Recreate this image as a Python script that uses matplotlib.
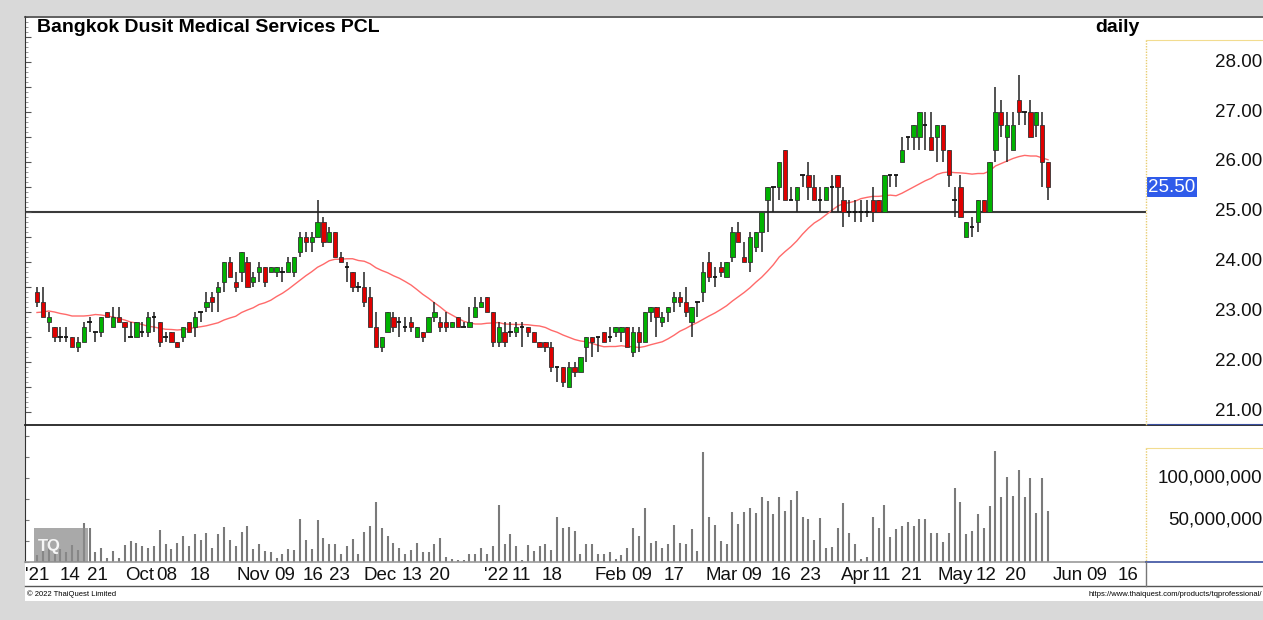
import matplotlib
matplotlib.use('Agg')
import matplotlib.pyplot as plt
from matplotlib.patches import Rectangle
from matplotlib.lines import Line2D
import numpy as np
import pandas as pd

plt.rcParams['font.family'] = ['Liberation Sans', 'DejaVu Sans']

W, H = 1263, 620

# ---- datos ----
open_ = [23.4, 23.2, 22.8, 22.7, 22.5, 22.5, 22.5, 22.3, 22.4, 22.8,
         22.6, 22.6, 23.0, 22.7, 22.9, 22.8, 22.5, 22.5, 22.6, 22.6,
         22.9, 22.8, 22.5, 22.6, 22.4, 22.5, 22.8, 22.7, 23.0, 23.1,
         23.3, 23.4, 23.6, 24.0, 23.6, 23.8, 24.0, 23.6, 23.8, 23.9,
         23.8, 23.8, 23.8, 23.8, 23.8, 24.2, 24.5, 24.4, 24.5, 24.8,
         24.4, 24.6, 24.1, 23.9, 23.8, 23.5, 23.5, 23.3, 22.7, 22.3,
         22.6, 22.9, 22.8, 22.7, 22.8, 22.5, 22.6, 22.6, 22.9, 22.8,
         22.8, 22.7, 22.9, 22.7, 22.7, 22.9, 23.1, 23.3, 23.0, 22.4,
         22.6, 22.6, 22.6, 22.7, 22.7, 22.6, 22.4, 22.4, 22.3, 21.9,
         21.9, 21.5, 21.9, 21.8, 22.3, 22.5, 22.5, 22.6, 22.5, 22.6,
         22.6, 22.7, 22.2, 22.6, 22.4, 23.0, 23.1, 22.8, 23.0, 23.2,
         23.3, 23.2, 22.8, 23.2, 23.4, 24.0, 23.7, 23.9, 23.7, 24.1,
         24.6, 24.1, 24.0, 24.3, 24.6, 25.25, 25.5, 25.5, 26.25, 25.25,
         25.25, 25.75, 25.75, 25.5, 25.25, 25.25, 25.5, 25.75, 25.25, 25.0,
         25.0, 25.0, 25.0, 25.25, 25.25, 25.0, 25.75, 25.75, 26.0, 26.5,
         26.5, 26.5, 26.75, 26.5, 26.5, 26.75, 26.25, 25.25, 25.5, 24.5,
         24.7, 24.8, 25.25, 25.0, 26.25, 27.0, 26.5, 26.25, 27.25, 27.0,
         27.0, 26.75, 26.75, 26.0]
high = [23.5, 23.5, 23.0, 22.7, 22.7, 22.7, 22.5, 22.5, 22.8, 22.9,
        22.6, 22.9, 23.0, 23.1, 23.1, 22.8, 22.8, 22.8, 22.8, 23.0,
        23.0, 22.8, 22.6, 22.6, 22.4, 22.7, 22.8, 23.0, 23.0, 23.4,
        23.4, 23.6, 24.0, 24.1, 23.8, 24.2, 24.1, 23.8, 24.0, 23.9,
        23.9, 23.9, 23.9, 24.1, 24.1, 24.6, 24.6, 24.6, 25.25, 24.9,
        24.7, 24.6, 24.2, 24.0, 23.8, 23.6, 23.8, 23.5, 23.0, 22.5,
        23.0, 23.0, 22.9, 22.9, 22.9, 22.7, 22.6, 22.9, 23.2, 22.9,
        23.0, 22.8, 22.9, 22.8, 23.1, 23.3, 23.3, 23.3, 23.0, 22.8,
        22.8, 22.8, 22.8, 22.8, 22.7, 22.6, 22.4, 22.4, 22.4, 21.9,
        21.9, 22.0, 22.0, 22.1, 22.5, 22.5, 22.5, 22.6, 22.7, 22.7,
        22.7, 22.7, 22.7, 22.7, 23.0, 23.1, 23.1, 23.0, 23.1, 23.4,
        23.4, 23.5, 23.1, 23.2, 24.0, 24.2, 23.9, 24.0, 24.0, 24.7,
        24.8, 24.4, 24.6, 24.6, 25.0, 25.5, 25.5, 26.0, 26.25, 25.5,
        25.5, 25.75, 26.0, 25.75, 25.5, 25.5, 25.75, 25.75, 25.5, 25.25,
        25.25, 25.25, 25.25, 25.5, 25.25, 25.75, 25.75, 25.75, 26.5, 26.5,
        26.75, 27.0, 27.0, 27.0, 26.75, 26.75, 26.25, 25.5, 25.75, 24.8,
        24.9, 25.25, 25.25, 26.0, 27.5, 27.25, 27.0, 27.0, 27.75, 27.0,
        27.25, 27.0, 27.0, 26.0]
low = [23.1, 22.9, 22.6, 22.4, 22.4, 22.4, 22.3, 22.2, 22.4, 22.6,
       22.4, 22.5, 22.9, 22.7, 22.8, 22.4, 22.5, 22.5, 22.5, 22.5,
       22.6, 22.3, 22.4, 22.4, 22.3, 22.4, 22.6, 22.5, 22.8, 23.0,
       23.0, 23.0, 23.4, 23.7, 23.4, 23.6, 23.5, 23.5, 23.6, 23.5,
       23.8, 23.7, 23.6, 23.8, 23.7, 24.1, 24.2, 24.2, 24.5, 24.3,
       24.4, 24.1, 24.0, 23.6, 23.4, 23.4, 23.1, 22.7, 22.3, 22.2,
       22.6, 22.6, 22.5, 22.6, 22.6, 22.5, 22.4, 22.6, 22.8, 22.6,
       22.6, 22.7, 22.7, 22.7, 22.7, 22.9, 23.1, 23.0, 22.3, 22.3,
       22.3, 22.5, 22.5, 22.3, 22.5, 22.4, 22.3, 22.2, 21.8, 21.6,
       21.5, 21.5, 21.7, 21.8, 22.0, 22.1, 22.2, 22.4, 22.4, 22.5,
       22.4, 22.3, 22.1, 22.2, 22.4, 22.8, 22.5, 22.7, 22.8, 23.0,
       23.1, 22.9, 22.5, 22.9, 23.2, 23.6, 23.5, 23.7, 23.7, 24.0,
       24.4, 24.0, 23.8, 24.2, 24.2, 24.6, 25.0, 25.25, 25.25, 25.25,
       25.0, 25.5, 25.25, 25.25, 25.0, 25.25, 25.0, 25.0, 24.7, 24.9,
       24.8, 24.8, 24.9, 24.8, 25.0, 25.0, 25.5, 25.5, 26.0, 26.25,
       26.25, 26.25, 26.25, 26.25, 26.0, 26.0, 25.5, 24.9, 24.9, 24.5,
       24.5, 24.6, 25.0, 25.0, 26.0, 26.5, 26.0, 26.25, 26.75, 26.75,
       26.5, 26.5, 25.5, 25.25]
close = [23.2, 22.9, 22.9, 22.5, 22.5, 22.5, 22.3, 22.4, 22.7, 22.8,
         22.6, 22.9, 22.9, 22.9, 22.8, 22.7, 22.5, 22.8, 22.6, 22.9,
         22.9, 22.4, 22.5, 22.4, 22.3, 22.7, 22.6, 22.9, 23.0, 23.2,
         23.2, 23.5, 24.0, 23.7, 23.5, 24.2, 23.5, 23.7, 23.9, 23.6,
         23.9, 23.9, 23.8, 24.0, 24.1, 24.5, 24.4, 24.5, 24.8, 24.4,
         24.6, 24.1, 24.0, 23.9, 23.5, 23.5, 23.2, 22.7, 22.3, 22.5,
         23.0, 22.7, 22.8, 22.7, 22.7, 22.7, 22.5, 22.9, 23.0, 22.7,
         22.7, 22.8, 22.7, 22.7, 22.8, 23.1, 23.2, 23.0, 22.4, 22.7,
         22.4, 22.6, 22.7, 22.7, 22.6, 22.4, 22.3, 22.3, 21.9, 21.9,
         21.6, 21.9, 21.8, 22.1, 22.5, 22.4, 22.5, 22.4, 22.5, 22.7,
         22.7, 22.3, 22.6, 22.4, 23.0, 23.1, 22.9, 22.9, 23.1, 23.3,
         23.2, 23.0, 23.1, 23.2, 23.8, 23.7, 23.7, 23.8, 24.0, 24.6,
         24.4, 24.0, 24.5, 24.6, 25.0, 25.5, 25.5, 26.0, 25.25, 25.25,
         25.5, 25.75, 25.5, 25.25, 25.25, 25.5, 25.5, 25.5, 25.0, 25.0,
         25.0, 25.0, 25.0, 25.0, 25.0, 25.75, 25.75, 25.75, 26.25, 26.5,
         26.75, 27.0, 26.75, 26.25, 26.75, 26.25, 25.75, 25.25, 24.9, 24.8,
         24.7, 25.25, 25.0, 26.0, 27.0, 26.75, 26.75, 26.75, 27.0, 27.0,
         26.5, 27.0, 26.0, 25.5]

# volumen en millones de acciones
volume_m = [8, 14, 26, 10, 16, 12, 20, 14, 46, 40,
            12, 17, 5, 13, 5, 20, 25, 23, 19, 17,
            19, 38, 21, 16, 23, 31, 19, 33, 26, 35,
            17, 33, 42, 26, 19, 36, 43, 16, 21, 13,
            12, 5, 9, 16, 14, 51, 26, 15, 50, 29,
            21, 21, 10, 19, 27, 9, 36, 43, 71, 40,
            31, 23, 17, 9, 14, 23, 12, 12, 21, 29,
            6, 4, 2, 2, 9, 10, 17, 9, 19, 68,
            21, 33, 19, 2, 20, 13, 19, 22, 14, 54,
            40, 42, 37, 10, 22, 21, 10, 9, 12, 4,
            8, 17, 40, 31, 64, 23, 25, 17, 22, 44,
            23, 22, 39, 13, 131, 54, 44, 25, 22, 59,
            45, 59, 64, 58, 77, 73, 57, 77, 61, 74,
            84, 54, 51, 26, 52, 17, 18, 40, 70, 35,
            21, 4, 6, 54, 40, 68, 30, 39, 43, 48,
            43, 51, 51, 34, 35, 24, 35, 88, 72, 33,
            37, 57, 40, 67, 132, 77, 101, 78, 110, 77,
            100, 58, 100, 61]

# media movil al inicio (sin historia previa en la imagen)
ma_head = [22.99, 23.0, 23.02, 23.0, 22.97, 22.95, 22.92, 22.92, 22.92, 22.93,
           22.95, 22.94, 22.92, 22.9, 22.87, 22.84, 22.8, 22.78, 22.75]
ma_window = 20

date_pos = [0, 5.6, 10.4, 17.6, 22.2, 27.9, 36.9, 42.3, 47.2, 51.8,
            58.7, 64.2, 68.9, 78.5, 82.8, 88.1, 98.2, 103.5, 109.0, 117.2,
            122.3, 127.3, 132.4, 140.0, 144.4, 149.7, 157.1, 162.4, 167.5,
            176.4, 181.4, 186.7]
date_lbl = ["'21", '14', '21', 'Oct', '08', '18', 'Nov', '09', '16', '23',
            'Dec', '13', '20', "'22", '11', '18', 'Feb', '09', '17', 'Mar',
            '09', '16', '23', 'Apr', '11', '21', 'May', '12', '20',
            'Jun', '09', '16']

price_ticks = [21, 22, 23, 24, 25, 26, 27, 28]
vol_ticks = [50, 100]
support = 25.0
last_price = 25.50


def px_axes(fig, x0, y0, x1, y1):
    return fig.add_axes([x0 / W, 1 - y1 / H, (x1 - x0) / W, (y1 - y0) / H])


def fig_line(fig, x0, y0, x1, y1, **kw):
    fig.add_artist(Line2D([x0 / W, x1 / W], [1 - y0 / H, 1 - y1 / H],
                          transform=fig.transFigure, **kw))


fig = plt.figure(figsize=(W / 100, H / 100), dpi=100)
fig.patch.set_facecolor('#d9d9d9')
fig.add_artist(Rectangle((25 / W, 1 - 601 / H), (W - 25) / W, (601 - 16) / H,
                         transform=fig.transFigure, facecolor='white',
                         edgecolor='none', zorder=0))

n = len(close)
x = np.arange(n)
x_left = -(37 - 25) / 5.844
x_right = (1146 - 37) / 5.844

# ---- precios ----
ax = px_axes(fig, 25, 16, 1146, 425)
ax.set_xlim(x_left, x_right)
ax.set_ylim(21 - (425 - 412) / 50, 21 + (412 - 16) / 50)
ax.set_facecolor('none')
for s in ['top', 'right', 'bottom']:
    ax.spines[s].set_visible(False)
ax.spines['left'].set_color('#333333')
ax.set_xticks([])
ax.set_yticks(np.arange(21, 29, 0.5))
ax.set_yticks(np.arange(21, 29, 0.1), minor=True)
ax.tick_params(axis='y', which='major', direction='in', length=4, color='#555555', labelleft=False)
ax.tick_params(axis='y', which='minor', direction='in', length=2, color='#888888', labelleft=False)

ax.axhline(support, color='#3a3a3a', lw=1.5, zorder=1)

ma = pd.Series(close).rolling(ma_window).mean().to_numpy()
ma[:len(ma_head)] = ma_head
ax.plot(x, ma, color='#ff6a6a', lw=1.0, zorder=2)

o = np.array(open_)
c = np.array(close)
ax.vlines(x, low, high, color='#222222', lw=1.1, zorder=3)
up = c > o
dn = c < o
eq = c == o
ax.bar(x[up], (c - o)[up], bottom=o[up], width=0.74, color='#00b300',
       edgecolor='#333333', linewidth=0.6, zorder=4)
ax.bar(x[dn], (o - c)[dn], bottom=c[dn], width=0.74, color='#e00000',
       edgecolor='#333333', linewidth=0.6, zorder=4)
ax.hlines(c[eq], x[eq] - 0.37, x[eq] + 0.37, color='#111111', lw=1.3, zorder=4)

ytr = ax.get_yaxis_transform()
for p in price_ticks:
    ax.text((1262 - 25) / (1146 - 25), p, '%.2f' % p, transform=ytr, ha='right',
            va='center', fontsize=13.5, color='#111111', clip_on=False)
ax.text((1148 - 25) / (1146 - 25), last_price, '%.2f' % last_price, transform=ytr,
        ha='left', va='center', fontsize=13.5, color='white', clip_on=False,
        bbox=dict(boxstyle='square,pad=0.08', facecolor='#2f5bea', edgecolor='none'))

# ---- volumen ----
axv = px_axes(fig, 25, 425, 1146, 562)
axv.set_xlim(x_left, x_right)
axv.set_ylim(0, (562 - 425) / 0.84)
axv.set_facecolor('none')
for s in ['top', 'right', 'bottom']:
    axv.spines[s].set_visible(False)
axv.spines['left'].set_color('#333333')
axv.set_xticks([])
axv.set_yticks(np.arange(0, 160, 25))
axv.tick_params(axis='y', direction='in', length=3, color='#777777', labelleft=False)
axv.vlines(x, 0, volume_m, color='#7a7a7a', lw=1.5)
vtr = axv.get_yaxis_transform()
for v in vol_ticks:
    axv.text((1262 - 25) / (1146 - 25), v, '{:,}'.format(v * 1000000), transform=vtr,
             ha='right', va='center', fontsize=13.5, color='#111111', clip_on=False)

# logo
fig.add_artist(Rectangle((34 / W, 1 - 562 / H), 54 / W, 34 / H, transform=fig.transFigure,
                         facecolor='#8c8c8c', edgecolor='none', alpha=0.75, zorder=5))
fig.text(38 / W, 1 - 547 / H, 'TQ', fontsize=12, fontweight='bold', color='white',
         va='center', alpha=0.9, zorder=6)

# ---- fechas ----
axd = px_axes(fig, 25, 562, 1146, 586)
axd.set_xlim(x_left, x_right)
axd.set_ylim(0, 1)
axd.axis('off')
for pos, lbl in zip(date_pos, date_lbl):
    axd.text(pos, 0.45, lbl, ha='center', va='center', fontsize=13.5, color='#111111')

# ---- marcos ----
fig_line(fig, 25, 16.5, W, 16.5, color='#444444', lw=1.2)
fig_line(fig, 25, 425, W, 425, color='#222222', lw=1.3)
fig_line(fig, 25, 562, 1146, 562, color='#999999', lw=1.2)
fig_line(fig, 1146, 562, W, 562, color='#3a4fa0', lw=1.2)
fig_line(fig, 1146, 424, W, 424, color='#3a4fa0', lw=0.8)
fig_line(fig, 25, 586, W, 586, color='#555555', lw=1.0)
fig_line(fig, 1146, 40, 1146, 425, color='#e8cc70', lw=1.0, ls=(0, (1, 1)))
fig_line(fig, 1146, 40, W, 40, color='#f2dc90', lw=0.8)
fig_line(fig, 1146, 448, 1146, 562, color='#e8cc70', lw=1.0, ls=(0, (1, 1)))
fig_line(fig, 1146, 448, W, 448, color='#f2dc90', lw=0.8)
fig_line(fig, 1146, 562, 1146, 586, color='#777777', lw=1.0)

fig.text(37 / W, 1 - 28 / H, 'Bangkok Dusit Medical Services PCL', fontsize=14,
         fontweight='bold', va='center', ha='left')
fig.text(1140 / W, 1 - 28 / H, 'daily', fontsize=14, fontweight='bold', va='center', ha='right')
fig.text(27 / W, 1 - 594 / H, '\u00a9 2022 ThaiQuest Limited', fontsize=5.5, va='center')
fig.text(1262 / W, 1 - 594 / H, 'https://www.thaiquest.com/products/tqprofessional/',
         fontsize=5.5, va='center', ha='right')

fig.savefig('out.png', dpi=100, facecolor=fig.get_facecolor())
